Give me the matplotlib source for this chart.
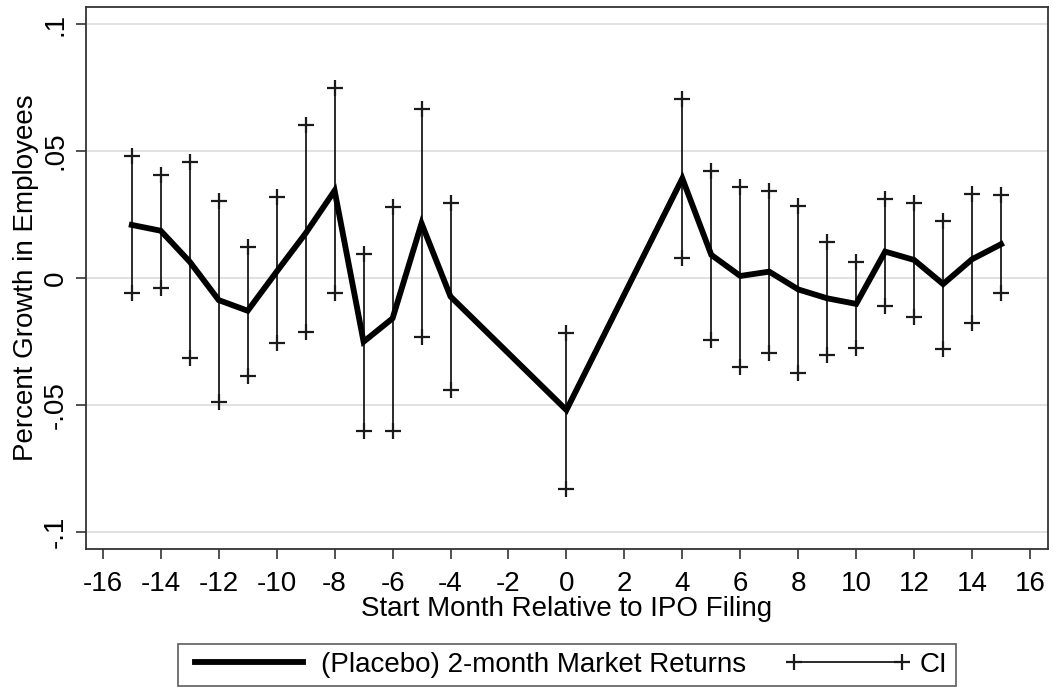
import matplotlib
matplotlib.use("Agg")
import matplotlib.pyplot as plt
from matplotlib.lines import Line2D

months = [-15, -14, -13, -12, -11, -10, -9, -8, -7, -6, -5, -4, 0,
          4, 5, 6, 7, 8, 9, 10, 11, 12, 13, 14, 15]
estimate = [0.0209, 0.0186, 0.0064, -0.0087, -0.0129, 0.0025, 0.0176, 0.0344,
            -0.0251, -0.0159, 0.0215, -0.0073, -0.0520,
            0.0392, 0.0091, 0.0008, 0.0025, -0.0045, -0.0080, -0.0102,
            0.0104, 0.0071, -0.0024, 0.0074, 0.0133]
ci_upper = [0.0480, 0.0404, 0.0457, 0.0304, 0.0123, 0.0320, 0.0602, 0.0748,
            0.0094, 0.0281, 0.0665, 0.0294, -0.0218,
            0.0703, 0.0421, 0.0360, 0.0344, 0.0283, 0.0143, 0.0064,
            0.0310, 0.0294, 0.0226, 0.0331, 0.0327]
ci_lower = [-0.0058, -0.0038, -0.0316, -0.0487, -0.0386, -0.0257, -0.0211, -0.0058,
            -0.0601, -0.0601, -0.0231, -0.0441, -0.0832,
            0.0077, -0.0244, -0.0349, -0.0297, -0.0375, -0.0303, -0.0274,
            -0.0110, -0.0155, -0.0281, -0.0176, -0.0060]

xticks = list(range(-16, 17, 2))
yticks = [-0.1, -0.05, 0, 0.05, 0.1]
ytick_labels = ["-.1", "-.05", "0", ".05", ".1"]

plt.rcParams['font.family'] = ['Liberation Sans', 'DejaVu Sans']
FS = 20

fig = plt.figure(figsize=(10.53, 6.94), dpi=100)
ax = fig.add_axes([86/1053, 1 - 549/694, (1048-86)/1053, (549-7)/694])

for y in yticks:
    ax.axhline(y, color='#dcdcdc', lw=1.2, zorder=0)

ax.vlines(months, ci_lower, ci_upper, color='#1a1a1a', lw=1.3, zorder=2)
ax.plot(months, ci_upper, linestyle='none', marker='+', ms=11, mew=1.6, color='#1a1a1a', zorder=3)
ax.plot(months, ci_lower, linestyle='none', marker='+', ms=11, mew=1.6, color='#1a1a1a', zorder=3)
ax.plot(months, estimate, color='black', lw=4.2, solid_joinstyle='miter', zorder=4)

ax.set_xlim(-16.58, 16.62)
ax.set_ylim(-0.1067, 0.1067)
ax.set_xticks(xticks)
ax.set_xticklabels([str(t) for t in xticks], fontsize=FS)
ax.set_yticks(yticks)
ax.set_yticklabels(ytick_labels, fontsize=FS, rotation=90, va='center')
ax.tick_params(axis='both', direction='out', length=7, width=1.2, color='#333333')
ax.tick_params(axis='x', pad=9)
ax.tick_params(axis='y', pad=5.5)
for s in ax.spines.values():
    s.set_color('#333333')
    s.set_linewidth(1.3)

ax.set_xlabel("Start Month Relative to IPO Filing", fontsize=FS, labelpad=-1)
ax.set_ylabel("Percent Growth in Employees", fontsize=FS, labelpad=2.5)

h1 = Line2D([], [], color='black', lw=4.2)
h2 = Line2D([], [], color='#1a1a1a', lw=1.3, marker='+', ms=11, mew=1.6)
leg = fig.legend([h1, h2], ["(Placebo) 2-month Market Returns", "CI"],
                 loc='center', bbox_to_anchor=(567/1053, 1 - 665/694), ncol=2,
                 fontsize=FS, frameon=True, fancybox=False, numpoints=2,
                 handlelength=4.5, columnspacing=1.4, handletextpad=0.35,
                 borderpad=0.3)
leg.get_frame().set_edgecolor('#333333')
leg.get_frame().set_linewidth(1.2)

fig.savefig("out.png", dpi=100, facecolor='white')
